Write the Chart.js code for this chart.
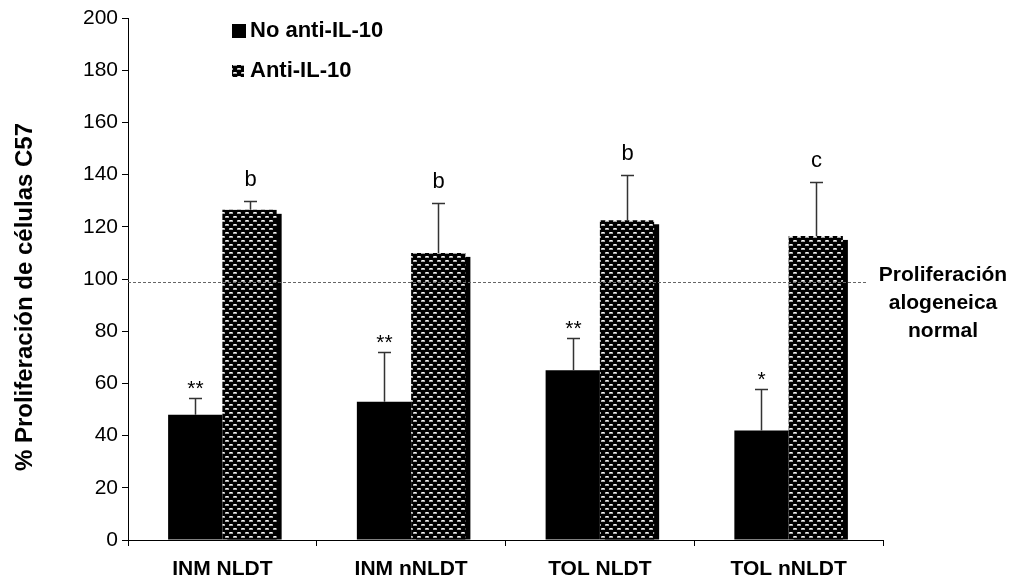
<!DOCTYPE html>
<html>
<head>
<meta charset="utf-8">
<script src="https://cdn.jsdelivr.net/npm/chart.js@4.4.1/dist/chart.umd.min.js"></script>
<style>
  html, body { margin: 0; padding: 0; background: #fff; }
  #wrap { width: 1014px; height: 587px; position: relative; }
</style>
</head>
<body>
<div id="wrap"><canvas id="c" width="1014" height="587"></canvas></div>
<script>
// Groups and series
const categories = ['INM NLDT', 'INM nNLDT', 'TOL NLDT', 'TOL nNLDT'];
const seriesNames = ['No anti-IL-10', 'Anti-IL-10'];

// Mean proliferation (%) and standard deviation per group
const noAntiValues = [48, 53, 65, 42];
const noAntiSD = [6.5, 19, 12.5, 16];
const antiValues = [126.5, 110, 122.5, 116.5];
const antiSD = [3.5, 19, 17.5, 20.5];

// Significance marks above each bar
const noAntiMarks = ['**', '**', '**', '*'];
const antiMarks = ['b', 'b', 'b', 'c'];

// Value axis
const yMin = 0;
const yMax = 200;
const yStep = 20;
const yTitle = '% Proliferación de células C57';

// Normal allogeneic proliferation reference
const referenceLevel = 99;
const referenceLabel = ['Proliferación', 'alogeneica', 'normal'];

const FONT = "'Liberation Sans', Arial, Helvetica, sans-serif";
Chart.defaults.font.family = FONT;
Chart.defaults.color = '#000';

// Black fill with staggered light dashes (checked weave)
function makeWeave() {
  const p = document.createElement('canvas');
  p.width = 8; p.height = 8;
  const g = p.getContext('2d');
  g.fillStyle = '#000';
  g.fillRect(0, 0, 8, 8);
  g.fillStyle = '#a8a8a8';
  g.fillRect(1, 0, 4, 2);
  g.fillRect(5, 4, 3, 2);
  g.fillRect(0, 4, 1, 2);
  g.fillStyle = '#f4f4f4';
  g.fillRect(2, 0, 2, 1);
  g.fillRect(6, 4, 2, 1);
  return g.createPattern(p, 'repeat');
}
const weave = makeWeave();

// Drop shadow behind the patterned bars
const barShadow = {
  id: 'barShadow',
  beforeDatasetDraw(chart, args) {
    if (args.index !== 1) return;
    const ctx = chart.ctx;
    ctx.save();
    ctx.fillStyle = '#000';
    args.meta.data.forEach(el => {
      const left = el.x - el.width / 2 + 5;
      ctx.fillRect(left, el.y + 4, el.width, el.base - el.y - 4);
    });
    ctx.restore();
  }
};

// Upper error bars, significance marks, reference line, legend and titles
const overlays = {
  id: 'overlays',
  afterDatasetsDraw(chart) {
    const ctx = chart.ctx;
    const y = chart.scales.y;
    const area = chart.chartArea;
    ctx.save();

    // reference dashed line
    const ry = Math.round(y.getPixelForValue(referenceLevel)) + 0.5;
    ctx.strokeStyle = '#666';
    ctx.lineWidth = 1;
    ctx.setLineDash([3, 2]);
    ctx.beginPath();
    ctx.moveTo(area.left, ry);
    ctx.lineTo(area.right - 17, ry);
    ctx.stroke();
    ctx.setLineDash([]);

    chart.data.datasets.forEach((ds, di) => {
      const meta = chart.getDatasetMeta(di);
      meta.data.forEach((el, i) => {
        const x = Math.round(el.x) + 0.5;
        const top = Math.round(y.getPixelForValue(ds.data[i] + ds.sd[i])) + 0.5;
        ctx.strokeStyle = '#333';
        ctx.lineWidth = 1.5;
        ctx.beginPath();
        ctx.moveTo(x, el.y);
        ctx.lineTo(x, top);
        ctx.moveTo(x - 6.5, top);
        ctx.lineTo(x + 6.5, top);
        ctx.stroke();

        const mark = ds.marks[i];
        ctx.fillStyle = '#000';
        ctx.textAlign = 'center';
        ctx.textBaseline = 'alphabetic';
        if (mark.indexOf('*') >= 0) {
          ctx.font = '21px ' + FONT;
          ctx.fillText(mark, x, top - 4);
        } else {
          ctx.font = '22px ' + FONT;
          ctx.fillText(mark, x, top - 16);
        }
      });
    });

    // reference label to the right of the plot
    ctx.fillStyle = '#000';
    ctx.font = 'bold 21px ' + FONT;
    ctx.textAlign = 'center';
    ctx.textBaseline = 'middle';
    referenceLabel.forEach((line, k) => {
      ctx.fillText(line, area.right + 60, ry - 7 + k * 28);
    });

    // legend
    const lx = 232, ly = 31;
    ctx.textAlign = 'left';
    ctx.textBaseline = 'middle';
    chart.data.datasets.forEach((ds, di) => {
      const cy = ly + di * 40;
      if (di === 0) {
        ctx.fillStyle = '#000';
        ctx.fillRect(lx, cy - 7, 14, 14);
      } else {
        ctx.fillStyle = ds.backgroundColor;
        ctx.fillRect(lx, cy - 6, 12, 12);
      }
      ctx.fillStyle = '#000';
      ctx.font = 'bold 22px ' + FONT;
      ctx.fillText(ds.label, lx + 18, cy);
    });

    // value axis title
    ctx.save();
    ctx.translate(25, (area.top + area.bottom) / 2 + 18);
    ctx.rotate(-Math.PI / 2);
    ctx.textAlign = 'center';
    ctx.textBaseline = 'middle';
    ctx.font = 'bold 24px ' + FONT;
    ctx.fillText(yTitle, 0, 0);
    ctx.restore();

    ctx.restore();
  }
};

new Chart(document.getElementById('c'), {
  type: 'bar',
  data: {
    labels: categories,
    datasets: [
      { label: seriesNames[0], data: noAntiValues, sd: noAntiSD, marks: noAntiMarks,
        backgroundColor: '#000', barPercentage: 1, categoryPercentage: 0.575 },
      { label: seriesNames[1], data: antiValues, sd: antiSD, marks: antiMarks,
        backgroundColor: weave, barPercentage: 1, categoryPercentage: 0.575 }
    ]
  },
  options: {
    responsive: false,
    animation: false,
    devicePixelRatio: 1,
    layout: { padding: { top: 18, right: 131, bottom: 0, left: 0 } },
    plugins: { legend: { display: false }, tooltip: { enabled: false } },
    scales: {
      x: {
        grid: { display: true, drawOnChartArea: false, offset: true, tickLength: 6, color: '#000' },
        border: { color: '#000', width: 1 },
        ticks: { color: '#000', font: { size: 21, weight: 'bold' }, padding: 11, maxRotation: 0 },
        afterFit(s) { s.height = 47; }
      },
      y: {
        min: yMin, max: yMax,
        grid: { display: true, drawOnChartArea: false, tickLength: 6, color: '#000' },
        border: { color: '#000', width: 1 },
        ticks: { stepSize: yStep, color: '#000', font: { size: 21 }, padding: 4 },
        title: { display: false },
        afterFit(s) { s.width = 128; }
      }
    }
  },
  plugins: [barShadow, overlays]
});
</script>
</body>
</html>
